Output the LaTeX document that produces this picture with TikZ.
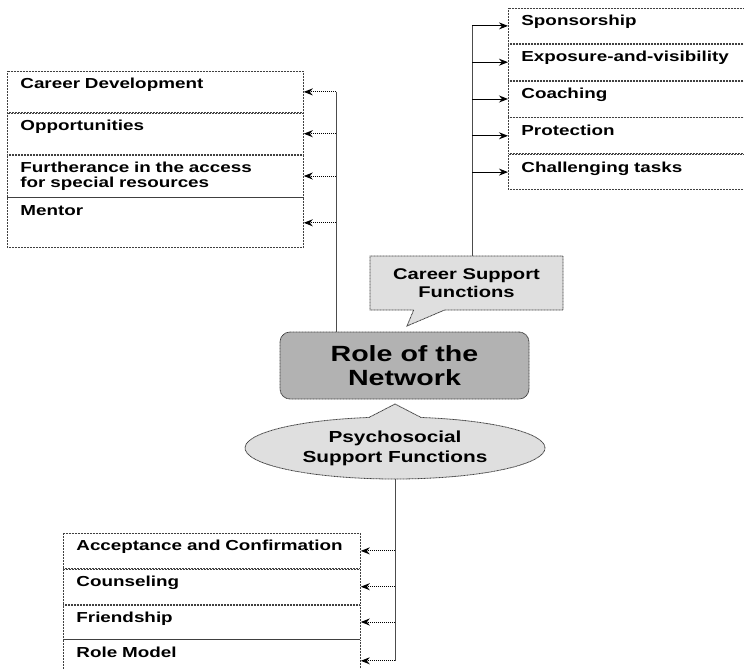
\documentclass[tikz,border=0pt]{standalone}
\usepackage{fontspec}
\newfontfamily\diafont[FakeStretch=1.3]{Liberation Sans}
\usetikzlibrary{shapes.geometric, shapes.callouts, arrows.meta, positioning}

\begin{document}
\begin{tikzpicture}[
    x=1pt, y=-1pt,
    listrow/.style={
        rectangle,
        draw=black!75,
        line width=0.8pt,
        dash pattern=on 1pt off 0.5pt,
        anchor=north west,
        inner xsep=13pt,
        inner ysep=0pt,
        text height=17.5pt,
        align=left,
        font=\diafont\bfseries\fontsize{14.5}{15}\selectfont
    },
    leftrow/.style={listrow, text width=270pt},
    rightrow/.style={listrow, text width=216pt},
    lowrow/.style={listrow, text width=271pt},
    rolebox/.style={
        rectangle,
        draw=black!75,
        line width=0.8pt,
        dash pattern=on 1pt off 0.5pt,
        fill=gray!60,
        rounded corners=10pt,
        minimum width=249pt,
        minimum height=67pt,
        inner sep=0pt,
        align=center,
        font=\diafont\bfseries\fontsize{22}{24}\selectfont
    },
    careercallout/.style={
        rectangle callout,
        draw=black!75,
        line width=0.8pt,
        dash pattern=on 1pt off 0.5pt,
        fill=gray!25,
        minimum width=193pt,
        minimum height=54pt,
        inner sep=0pt,
        callout pointer width=31pt,
        align=center,
        font=\diafont\bfseries\fontsize{15.5}{18}\selectfont
    },
    psycallout/.style={
        ellipse callout,
        draw=black!75,
        line width=0.8pt,
        dash pattern=on 1pt off 0.5pt,
        fill=gray!25,
        minimum width=300pt,
        minimum height=62pt,
        inner sep=0pt,
        callout pointer arc=20,
        align=center,
        font=\diafont\bfseries\fontsize{16}{20}\selectfont
    },
    trunk/.style={
        line width=1pt,
        draw=black!70
    },
    branch/.style={
        -{Stealth[length=9pt,width=7pt]},
        line width=1pt,
        dash pattern=on 1.5pt off 0.5pt,
        draw=black
    }
]

\useasboundingbox (0,0) rectangle (744,669);

% Centre: Role of the Network
\node[rolebox] (role) at (404.5,365.5) {Role of the\\Network};

% Callouts for the two function groups
\node[careercallout, callout absolute pointer={(407,326)}] (career) at (466.5,283) {Career Support\\Functions};
\node[psycallout, callout absolute pointer={(395,404)}] (psy) at (395,448) {Psychosocial\\Support Functions};

% Upper left list
\node[leftrow, text depth=23.5pt] (cd) at (7,71) {Career Development};
\node[leftrow, text depth=23.5pt, below=0pt of cd] (opp) {Opportunities};
\node[leftrow, text depth=24.5pt, below=0pt of opp] (fur) {Furtherance in the access\\for special resources};
\node[leftrow, text depth=32.5pt, below=0pt of fur] (mentor) {Mentor};

% Upper right list: career support functions
\node[rightrow, text depth=17.5pt] (spons) at (508,8) {Sponsorship};
\node[rightrow, text depth=18.5pt, below=0pt of spons] (expo) {Exposure-and-visibility};
\node[rightrow, text depth=18.5pt, below=0pt of expo] (coach) {Coaching};
\node[rightrow, text depth=18.5pt, below=0pt of coach] (prot) {Protection};
\node[rightrow, text depth=17.5pt, below=0pt of prot] (chall) {Challenging tasks};

% Lower list: psychosocial support functions
\node[lowrow, text depth=17.5pt] (accept) at (63,533) {Acceptance and Confirmation};
\node[lowrow, text depth=17.5pt, below=0pt of accept] (couns) {Counseling};
\node[lowrow, text depth=16.5pt, below=0pt of couns] (friend) {Friendship};
\node[lowrow, text depth=24.5pt, below=0pt of friend] (rolemodel) {Role Model};

% Junction columns
\coordinate (ljoin) at (336,0);
\coordinate (rjoin) at (472,0);

% Connectors to the upper left list
\draw[trunk] (role.north -| ljoin) -- (ljoin |- cd.east);
\draw[branch] (ljoin |- cd.east) -- (cd.east);
\draw[branch] (ljoin |- opp.east) -- (opp.east);
\draw[branch] (ljoin |- fur.east) -- (fur.east);
\draw[branch] (ljoin |- mentor.east) -- (mentor.east);

% Connectors to the career support list
\draw[trunk] (career.north -| rjoin) -- (rjoin |- spons.west);
\draw[branch] (rjoin |- spons.west) -- (spons.west);
\draw[branch] (rjoin |- expo.west) -- (expo.west);
\draw[branch] (rjoin |- coach.west) -- (coach.west);
\draw[branch] (rjoin |- prot.west) -- (prot.west);
\draw[branch] (rjoin |- chall.west) -- (chall.west);

% Connectors to the psychosocial list
\draw[trunk] (psy.south) -- (psy.south |- rolemodel.east);
\draw[branch] (psy.south |- accept.east) -- (accept.east);
\draw[branch] (psy.south |- couns.east) -- (couns.east);
\draw[branch] (psy.south |- friend.east) -- (friend.east);
\draw[branch] (psy.south |- rolemodel.east) -- (rolemodel.east);

\end{tikzpicture}
\end{document}
